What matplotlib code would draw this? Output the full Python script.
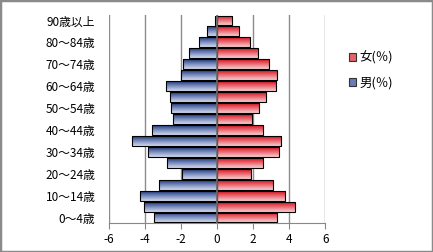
import numpy as np
import matplotlib
matplotlib.use("Agg")
import matplotlib.pyplot as plt
from matplotlib.colors import LinearSegmentedColormap
from matplotlib.patches import Patch, Rectangle

plt.rcParams['font.family'] = ['Noto Sans CJK JP', 'DejaVu Sans']
plt.rcParams['axes.unicode_minus'] = False

# age groups, bottom to top
ages = ["0～4歳", "5～9歳", "10～14歳", "15～19歳", "20～24歳", "25～29歳",
        "30～34歳", "35～39歳", "40～44歳", "45～49歳", "50～54歳", "55～59歳",
        "60～64歳", "65～69歳", "70～74歳", "75～79歳", "80～84歳", "85～89歳",
        "90歳以上"]
male = [-3.47, -4.02, -4.24, -3.22, -1.91, -2.74, -3.80, -4.69, -3.58, -2.41,
        -2.54, -2.58, -2.80, -1.98, -1.86, -1.52, -0.97, -0.56, -0.13]
female = [3.35, 4.30, 3.79, 3.13, 1.88, 2.57, 3.44, 3.55, 2.55, 1.94,
          2.33, 2.72, 3.27, 3.32, 2.90, 2.26, 1.82, 1.20, 0.84]

blue_cm = LinearSegmentedColormap.from_list("b", ["#d3daec", "#7d8fc0", "#1e3778"])
red_cm = LinearSegmentedColormap.from_list("r", ["#f6cfd2", "#ea6f78", "#d8121e"])

fig = plt.figure(figsize=(4.33, 2.52), dpi=100)
ax = fig.add_axes([0.2506, 0.115, 0.5007, 0.8255])

y = np.arange(len(ages))
grad = np.linspace(0, 1, 64).reshape(-1, 1)


def gradient_bars(vals, cmap):
    bars = ax.barh(y, vals, height=0.9, facecolor='none', edgecolor='black',
                   linewidth=0.8, zorder=3)
    for b in bars:
        x0, y0 = b.get_xy()
        w, h = b.get_width(), b.get_height()
        im = ax.imshow(grad, extent=[x0, x0 + w, y0, y0 + h], aspect='auto',
                       cmap=cmap, origin='lower', zorder=2, interpolation='bilinear')
        im.set_clip_path(b)
    return bars


gradient_bars(male, blue_cm)
gradient_bars(female, red_cm)

ax.set_xlim(-6, 6)
ax.set_ylim(-0.5, len(ages) - 0.5)
ax.set_xticks(np.arange(-6, 7, 2))
ax.set_yticks(y[::2])
ax.set_yticklabels(ages[::2])
ax.tick_params(axis='y', length=0, pad=9.5, labelsize=8.5)
ax.tick_params(axis='x', length=4, color='#888888', labelsize=8.5, pad=3)

ax.grid(axis='x', color='#8c8c8c', linewidth=1, zorder=0)
ax.axvline(0, color='#6e6e6e', linewidth=1.2, zorder=4)
for s in ['top', 'right', 'left']:
    ax.spines[s].set_visible(False)
ax.spines['bottom'].set_color('#888888')

handles = [Patch(facecolor='#e2646c', edgecolor='#333333', linewidth=0.8),
           Patch(facecolor='#6a7db3', edgecolor='#333333', linewidth=0.8)]
fig.legend(handles, ["女(％)", "男(％)"], loc='upper left',
           bbox_to_anchor=(338 / 433, 1 - 40 / 252), frameon=False,
           fontsize=9, handlelength=0.55, handleheight=0.55, handletextpad=0.3,
           labelspacing=0.95)

fig.patches.append(Rectangle((0, 0), 1, 1, transform=fig.transFigure,
                             fill=False, edgecolor='#8a8a8a', linewidth=2.5))

fig.savefig("out.png", dpi=100)
